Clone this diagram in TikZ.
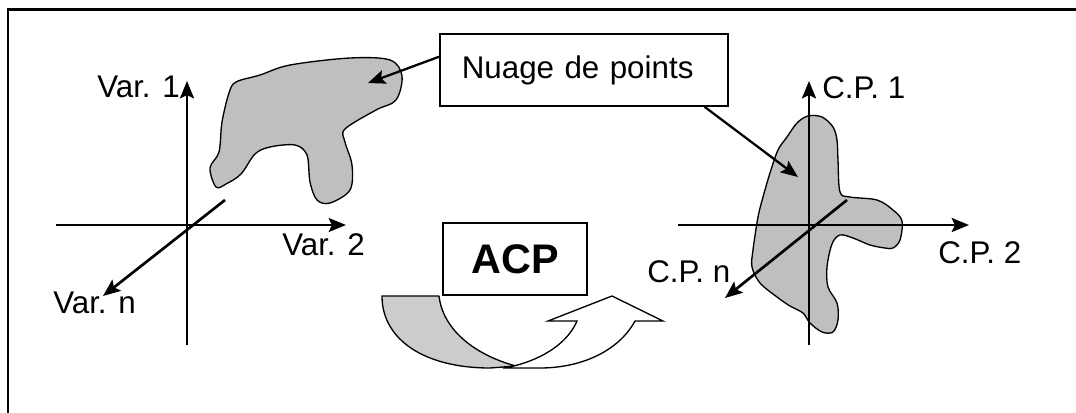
\documentclass[tikz,border=0pt]{standalone}
\usepackage{fontspec}
\setmainfont{Liberation Sans}
\usetikzlibrary{arrows.meta,calc}
\begin{document}
\begin{tikzpicture}[x=0.75pt,y=-0.75pt,
  axis/.style={line width=2pt,line cap=butt},
  axarrow/.style={axis,-{Stealth[length=13pt,width=10.5pt,inset=2.5pt]}},
  ptr/.style={line width=1.7pt,-{Stealth[length=13pt,width=10.5pt,inset=2.5pt]}},
  cloud/.style={draw=black,fill=gray!50,line width=1pt},
  lbl/.style={anchor=base west,inner sep=0pt,font=\fontsize{23.5}{28}\selectfont},
  boxn/.style={draw=black,line width=1.2pt,fill=white}]
\useasboundingbox (0,0) rectangle (1076,412);
% frame
\draw[line width=1.6pt] (8,420) -- (8,9.5) -- (1085,9.5);

% ---------- left cloud ----------
\draw[cloud] plot[smooth cycle,tension=0.55] coordinates {
 (216,187) (210,168) (219,152) (222,122) (229,93) (236,82) (260,75) (290,65)
 (350,58) (390,60) (402,76) (396,100) (376,110) (345,129) (345,142) (352,165)
 (350,190) (330,203) (317,200) (310,182) (307,155) (295,145) (270,147)
 (255,154) (241,174) (226,184)};

% ---------- left axes ----------
\coordinate (LvB) at (187,345); \coordinate (LvT) at (187,81);
\coordinate (LhL) at (56,225);  \coordinate (LhR) at (346,225);
\coordinate (LdA) at (225,200); \coordinate (LdB) at (103,296);
\draw[axarrow] (LvB) -- (LvT);
\draw[axarrow] (LhL) -- (LhR);
\draw[axarrow] (LdA) -- (LdB);
\node[lbl] (v1) at (97,97) {Var. 1};
\node[lbl] (v2) at (282,255) {Var. 2};
\node[lbl] (vn) at (53,313) {Var. n};

% ---------- right cloud ----------
\draw[cloud] plot[smooth cycle,tension=0.55] coordinates {
 (808,116) (822,117) (833,127) (837,140) (838,160) (840,192) (850,197)
 (877,200) (893,210) (902,221) (900,240) (893,248) (885,248) (870,245)
 (853,238) (840,235) (832,244) (827,267) (828,287) (837,303) (838,320)
 (833,332) (822,332) (810,323) (803,313) (790,306) (777,297) (760,283)
 (752,267) (753,250) (758,217) (763,197) (770,173) (778,150) (787,137) (797,123)};

% ---------- right axes ----------
\coordinate (RvB) at (809,345); \coordinate (RvT) at (809,81);
\coordinate (RhL) at (678,225); \coordinate (RhR) at (969,225);
\coordinate (RdA) at (847,200); \coordinate (RdB) at (725,298);
\draw[axarrow] (RvB) -- (RvT);
\draw[axarrow] (RhL) -- (RhR);
\draw[axarrow] (RdA) -- (RdB);
\node[lbl] (c1) at (822,98) {C.P. 1};
\node[lbl] (c2) at (938,263) {C.P. 2};
\node[lbl] (cn) at (647,282) {C.P. n};

% ---------- Nuage de points box ----------
\node[boxn,anchor=west,minimum width=216pt,minimum height=54pt,
  text width=183pt,inner xsep=16.5pt,align=left,
  font=\fontsize{23.5}{28}\selectfont] (nuage) at (439,70) {Nuage de points};
\coordinate (cloudL) at (368,83);
\coordinate (cloudR) at (798,177);
\draw[ptr] ($(nuage.north west)!0.32!(nuage.south west)$) -- (cloudL);
\draw[ptr] ($(nuage.south west)!0.917!(nuage.south east)$) -- (cloudR);

% ---------- ACP box ----------
\node[boxn,minimum width=108pt,minimum height=54pt,inner sep=0pt,
  font=\fontsize{31}{36}\selectfont\bfseries] (acp) at (515,259) {ACP};

% ---------- curved arrow ----------
\draw[fill=gray!40,line width=1pt,line join=round]
  (382,296) -- (439,296) .. controls (443,330) and (475,355) .. (516,366)
  -- (490,368) .. controls (425,368) and (382,340) .. (382,296) -- cycle;
\draw[fill=white,line width=1pt,line join=miter]
  (514,366) .. controls (545,358) and (568,342) .. (577,321)
  -- (548,321) -- (612,296) -- (663,321) -- (635,321)
  .. controls (618,352) and (580,368) .. (540,368) -- (503,368) -- cycle;
\end{tikzpicture}
\end{document}
